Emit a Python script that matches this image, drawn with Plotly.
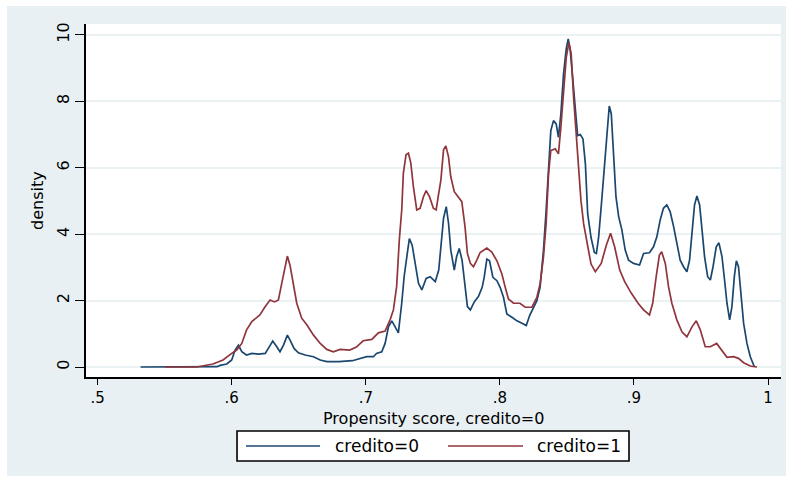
import plotly.graph_objects as go

# Kernel density of the propensity score, by credit status
score_c0 = [0.532, 0.560, 0.575, 0.589, 0.5913, 0.5963, 0.600, 0.6025, 0.605, 0.6075,
            0.611, 0.615, 0.620, 0.625, 0.6273, 0.6306, 0.6336, 0.636, 0.6386, 0.6415,
            0.6435, 0.6465, 0.6497, 0.6547, 0.661, 0.666, 0.671, 0.680, 0.690, 0.6957,
            0.7007, 0.7057, 0.708, 0.7119, 0.7144, 0.7169, 0.7194, 0.7219, 0.7243, 0.7268,
            0.7286, 0.7306, 0.7325, 0.7346, 0.7368, 0.7393, 0.7418, 0.745, 0.748, 0.7518,
            0.7544, 0.7562, 0.758, 0.760, 0.7617, 0.7634, 0.766, 0.7677, 0.7697, 0.7718,
            0.7738, 0.7758, 0.778, 0.781, 0.784, 0.7868, 0.7883, 0.7903, 0.7923, 0.7948,
            0.7978, 0.8002, 0.8027, 0.8052, 0.809, 0.8127, 0.8165, 0.8197, 0.8222, 0.8252,
            0.8276, 0.830, 0.8325, 0.8345, 0.8363, 0.838, 0.840, 0.842, 0.8437, 0.8455,
            0.8475, 0.8495, 0.851, 0.8525, 0.8545, 0.8565, 0.858, 0.860, 0.862, 0.8638,
            0.8655, 0.868, 0.8705, 0.872, 0.8737, 0.8762, 0.878, 0.880, 0.8816, 0.8831,
            0.8848, 0.8866, 0.8886, 0.891, 0.8935, 0.896, 0.8997, 0.9042, 0.9072, 0.9116,
            0.9146, 0.9171, 0.9196, 0.922, 0.9245, 0.927, 0.9296, 0.932, 0.9345, 0.937,
            0.9395, 0.9415, 0.9433, 0.9452, 0.947, 0.949, 0.9508, 0.9527, 0.955, 0.957,
            0.959, 0.9614, 0.9634, 0.9657, 0.9676, 0.9694, 0.9714, 0.9731, 0.9749, 0.9764,
            0.978, 0.9799, 0.9818, 0.9843, 0.9868, 0.9893, 0.990]
density_c0 = [0.0, 0.0, 0.0, 0.01, 0.05, 0.09, 0.21, 0.51, 0.66, 0.46,
              0.36, 0.41, 0.39, 0.41, 0.56, 0.78, 0.61, 0.46, 0.66, 0.96,
              0.81, 0.56, 0.43, 0.36, 0.31, 0.21, 0.16, 0.16, 0.19, 0.26,
              0.31, 0.31, 0.41, 0.46, 0.71, 1.21, 1.39, 1.21, 1.03, 1.92,
              2.72, 3.32, 3.87, 3.67, 3.12, 2.52, 2.32, 2.67, 2.72, 2.57,
              2.92, 3.83, 4.48, 4.83, 4.33, 3.52, 2.92, 3.32, 3.57, 3.22,
              2.42, 1.82, 1.72, 1.97, 2.12, 2.4, 2.7, 3.25, 3.2, 2.7,
              2.6, 2.4, 2.1, 1.6, 1.5, 1.39, 1.32, 1.25, 1.55, 1.8,
              2.0, 2.4, 3.5, 4.71, 6.11, 7.12, 7.42, 7.32, 6.92, 7.62,
              8.82, 9.58, 9.88, 9.53, 8.62, 7.62, 6.97, 7.0, 6.87, 6.11,
              4.61, 3.9, 3.45, 3.42, 3.92, 5.13, 6.03, 7.24, 7.86, 7.63,
              6.23, 5.13, 4.53, 4.13, 3.52, 3.22, 3.12, 3.07, 3.42, 3.44,
              3.62, 3.92, 4.43, 4.78, 4.88, 4.68, 4.23, 3.72, 3.22, 3.02,
              2.87, 3.22, 4.13, 4.88, 5.15, 4.88, 4.13, 3.32, 2.72, 2.62,
              3.02, 3.62, 3.74, 3.32, 2.62, 1.92, 1.42, 1.82, 2.72, 3.2,
              3.02, 2.12, 1.32, 0.71, 0.31, 0.06, 0.0]

score_c1 = [0.550, 0.574, 0.586, 0.5935, 0.599, 0.6037, 0.6075, 0.611, 0.615, 0.621,
            0.625, 0.6286, 0.632, 0.6348, 0.6373, 0.6398, 0.6415, 0.6435, 0.646, 0.6485,
            0.6522, 0.656, 0.661, 0.666, 0.6709, 0.6758, 0.6808, 0.688, 0.693, 0.698,
            0.7045, 0.7094, 0.7144, 0.7181, 0.7206, 0.723, 0.725, 0.7268, 0.728, 0.730,
            0.7318, 0.7336, 0.7355, 0.738, 0.7405, 0.743, 0.745, 0.7475, 0.7504, 0.7525,
            0.754, 0.756, 0.758, 0.7597, 0.7617, 0.7634, 0.766, 0.769, 0.7716, 0.774,
            0.7758, 0.778, 0.7803, 0.7828, 0.7853, 0.7903, 0.794, 0.7978, 0.8015, 0.804,
            0.8064, 0.8102, 0.815, 0.8189, 0.8239, 0.8276, 0.830, 0.8325, 0.8345, 0.8363,
            0.838, 0.8413, 0.8437, 0.8455, 0.8475, 0.8495, 0.8515, 0.8532, 0.855, 0.857,
            0.8587, 0.8605, 0.8625, 0.865, 0.868, 0.8712, 0.8756, 0.8794, 0.8826, 0.8856,
            0.8894, 0.8931, 0.8981, 0.9031, 0.9072, 0.9116, 0.914, 0.9166, 0.919, 0.9207,
            0.9234, 0.9258, 0.9283, 0.932, 0.9358, 0.9395, 0.9433, 0.9465, 0.9495, 0.9532,
            0.957, 0.9617, 0.9657, 0.9694, 0.9743, 0.978, 0.9818, 0.9868, 0.9918]
density_c1 = [0.0, 0.0, 0.09, 0.21, 0.38, 0.51, 0.71, 1.11, 1.37, 1.57,
              1.82, 2.02, 1.96, 2.02, 2.52, 3.02, 3.34, 3.06, 2.42, 1.92,
              1.47, 1.27, 0.96, 0.71, 0.53, 0.46, 0.53, 0.51, 0.6, 0.79,
              0.83, 1.03, 1.08, 1.42, 1.72, 2.42, 3.83, 4.73, 5.83, 6.39,
              6.44, 6.14, 5.43, 4.73, 4.78, 5.13, 5.31, 5.13, 4.78, 4.73,
              5.13, 5.63, 6.54, 6.66, 6.33, 5.73, 5.28, 5.13, 4.98, 4.23,
              3.42, 3.12, 3.02, 3.22, 3.45, 3.58, 3.46, 3.2, 2.8, 2.4,
              2.05, 1.92, 1.92, 1.80, 1.80, 2.1, 2.5, 3.3, 4.31, 5.81,
              6.52, 6.57, 6.42, 7.22, 8.32, 9.32, 9.78, 9.43, 8.12, 6.92,
              5.81, 5.01, 4.31, 3.70, 3.1, 2.87, 3.12, 3.67, 4.03, 3.62,
              2.92, 2.57, 2.22, 1.92, 1.72, 1.57, 1.92, 2.72, 3.37, 3.47,
              3.12, 2.42, 1.92, 1.42, 1.06, 0.91, 1.21, 1.39, 1.12, 0.61,
              0.61, 0.71, 0.51, 0.29, 0.31, 0.26, 0.13, 0.03, 0.0]

x_ticks = [0.5, 0.6, 0.7, 0.8, 0.9, 1.0]
x_tick_labels = [".5", ".6", ".7", ".8", ".9", "1"]
y_ticks = [0, 2, 4, 6, 8, 10]
series_names = ["credito=0", "credito=1"]

NAVY = "#1a476f"
MAROON = "#90353b"
REGION = "#e9f0f3"
FONT = "DejaVu Sans"

fig = go.Figure()
fig.add_trace(go.Scatter(x=score_c0, y=density_c0, mode="lines", name=series_names[0],
                         line=dict(color=NAVY, width=1.7), showlegend=False))
fig.add_trace(go.Scatter(x=score_c1, y=density_c1, mode="lines", name=series_names[1],
                         line=dict(color=MAROON, width=1.7), showlegend=False))

# graph region (light bluish frame) and white plot region
shapes = [
    dict(type="rect", xref="paper", yref="paper", x0=-0.1137, x1=1.0072, y0=-0.2805, y1=1.051,
         fillcolor=REGION, line=dict(width=0), layer="below"),
    dict(type="rect", xref="paper", yref="paper", x0=0, x1=1, y0=0, y1=1,
         fillcolor="white", line=dict(width=0), layer="below"),
    # legend box
    dict(type="rect", xref="paper", yref="paper", x0=0.2173, x1=0.7813, y0=-0.238, y1=-0.153,
         fillcolor="white", line=dict(color="black", width=1.6), layer="above"),
    dict(type="line", xref="paper", yref="paper", x0=0.2302, x1=0.3367, y0=-0.1955, y1=-0.1955,
         line=dict(color=NAVY, width=1.6)),
    dict(type="line", xref="paper", yref="paper", x0=0.5209, x1=0.6288, y0=-0.1955, y1=-0.1955,
         line=dict(color=MAROON, width=1.6)),
]

annotations = [
    dict(text="Propensity score, credito=0", xref="paper", yref="paper", x=0.5, y=-0.117,
         xanchor="center", yanchor="middle", showarrow=False, font=dict(size=16, color="black")),
    dict(text="density", xref="paper", yref="paper", x=-0.0698, y=0.5, textangle=-90,
         xanchor="center", yanchor="middle", showarrow=False, font=dict(size=16, color="black")),
    dict(text=series_names[0], xref="paper", yref="paper", x=0.3554, y=-0.1955,
         xanchor="left", yanchor="middle", showarrow=False, font=dict(size=17, color="black")),
    dict(text=series_names[1], xref="paper", yref="paper", x=0.646, y=-0.1955,
         xanchor="left", yanchor="middle", showarrow=False, font=dict(size=17, color="black")),
]

fig.update_layout(
    width=788, height=478,
    margin=dict(l=86, r=7, t=24, b=101),
    paper_bgcolor="white",
    plot_bgcolor="rgba(0,0,0,0)",
    font=dict(family=FONT, color="black"),
    shapes=shapes,
    annotations=annotations,
    showlegend=False,
)
fig.update_xaxes(
    range=[0.4913, 1.0097], tickvals=x_ticks, ticktext=x_tick_labels,
    showgrid=False, zeroline=False, showline=True, linecolor="black", linewidth=1.6,
    ticks="outside", ticklen=6, tickwidth=1.4, tickcolor="black",
    tickfont=dict(size=15, family=FONT, color="black"),
)
fig.update_yaxes(
    range=[-0.301, 10.331], tickvals=y_ticks, tickangle=-90,
    showgrid=True, gridcolor="#eaf2f3", gridwidth=1.5, zeroline=False,
    showline=True, linecolor="black", linewidth=1.6,
    ticks="outside", ticklen=9, tickwidth=1.4, tickcolor="black",
    tickfont=dict(size=16, family=FONT, color="black"),
)

fig.write_html("out.html")
